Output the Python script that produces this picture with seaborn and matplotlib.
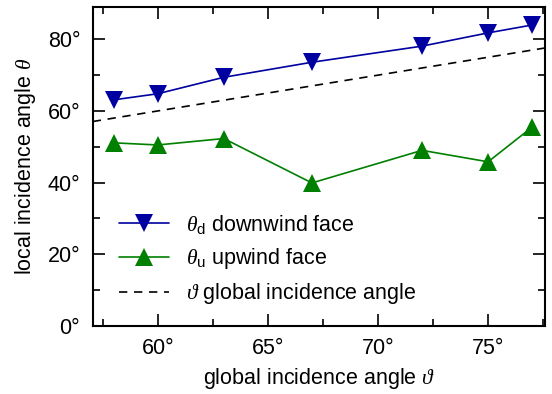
import numpy as np
import pandas as pd
import seaborn as sns
import matplotlib
matplotlib.use("Agg")
import matplotlib.pyplot as plt
from matplotlib.ticker import MultipleLocator, FuncFormatter

# global incidence angle (deg)
global_angle = [58, 60, 63, 67, 72, 75, 77]
# local incidence angle on the downwind face (deg)
theta_down = [63.1, 64.8, 69.4, 73.6, 78.1, 81.8, 84.0]
# local incidence angle on the upwind face (deg)
theta_up = [51.1, 50.5, 52.3, 39.9, 49.0, 45.8, 55.5]

labels = [r"$\theta_{\mathrm{d}}$ downwind face",
          r"$\theta_{\mathrm{u}}$ upwind face",
          r"$\vartheta$ global incidence angle"]

sns.set_style("ticks")
plt.rcParams["font.family"] = ["Liberation Sans", "DejaVu Sans"]
plt.rcParams["mathtext.fontset"] = "custom"
plt.rcParams["mathtext.rm"] = "Liberation Sans"
plt.rcParams["mathtext.it"] = "Liberation Serif:italic"
plt.rcParams["mathtext.fallback"] = "stix"
for k in ["text.color", "axes.labelcolor", "xtick.color", "ytick.color",
          "axes.edgecolor"]:
    plt.rcParams[k] = "black"

FS = 15.5

df = pd.DataFrame({"g": global_angle, "d": theta_down, "u": theta_up})

fig = plt.figure(figsize=(5.52, 3.94), dpi=100)
ax = fig.add_axes([0.168, 0.173, 0.820, 0.809])

sns.lineplot(data=df, x="g", y="d", ax=ax, color="#0000a0", marker="v",
             markersize=13, markeredgewidth=0, linewidth=1.2, label=labels[0])
sns.lineplot(data=df, x="g", y="u", ax=ax, color="#008000", marker="^",
             markersize=13, markeredgewidth=0, linewidth=1.2, label=labels[1])
ax.axline((0, 0), slope=1, color="black", linestyle=(0, (5, 4)),
          linewidth=1.2, label=labels[2])

ax.set_xlim(57.05, 77.6)
ax.set_ylim(0, 89)
ax.xaxis.set_major_locator(MultipleLocator(5))
ax.xaxis.set_minor_locator(MultipleLocator(2.5))
ax.yaxis.set_major_locator(MultipleLocator(20))
ax.yaxis.set_minor_locator(MultipleLocator(10))
deg = FuncFormatter(lambda v, p: f"{v:.0f}°")
ax.xaxis.set_major_formatter(deg)
ax.yaxis.set_major_formatter(deg)

ax.tick_params(which="both", direction="in", top=True, right=True,
               width=1.2, labelsize=FS, colors="black")
ax.tick_params(which="major", length=8.5, pad=9)
ax.tick_params(which="minor", length=5)
for s in ax.spines.values():
    s.set_linewidth(1.5)
    s.set_visible(True)
    s.set_color("black")

ax.set_xlabel(r"global incidence angle $\vartheta$", fontsize=FS, labelpad=5)
ax.set_ylabel(r"local incidence angle $\theta$", fontsize=FS, labelpad=7)

leg = ax.legend(loc="lower left", bbox_to_anchor=(0.015, 0.0), frameon=False,
                fontsize=FS, handlelength=2.35, handletextpad=0.75,
                labelspacing=0.48)

fig.savefig("out.png", dpi=100)
